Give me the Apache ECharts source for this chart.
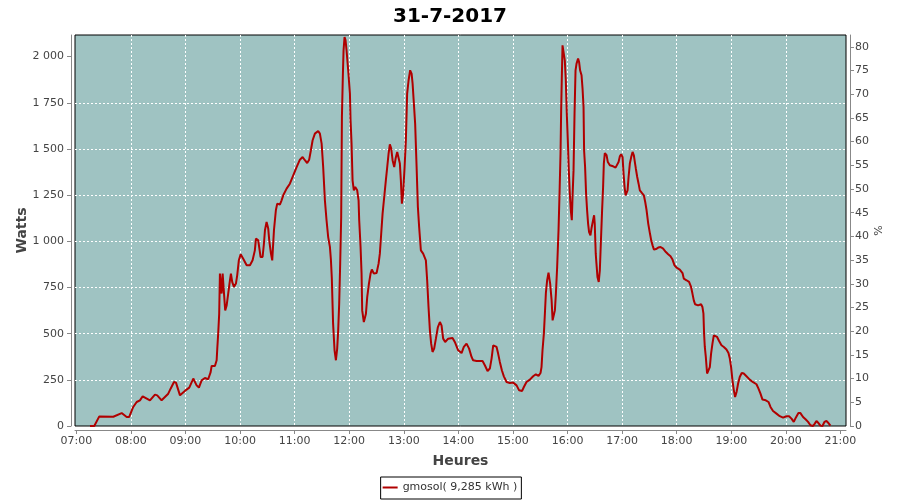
<!DOCTYPE html>
<html><head><meta charset="utf-8">
<script src="https://cdn.jsdelivr.net/npm/echarts@6/dist/echarts.min.js"></script>
<style>html,body{margin:0;padding:0;background:#fff}#c{width:900px;height:500px}</style>
</head><body><div id="c"></div>
<script>
// time of day in minutes since midnight
const minutes = [435.1,439.8,445.3,460.7,462.5,469.9,475.4,478.2,482.6,486.4,490,493,494.4,501,506.5,509,513.8,521.1,523.7,527.4,529.6,534,535.8,539.4,544.2,548.6,552.3,554.8,557.8,561.4,565,567.7,568.8,572.4,574.3,575,576,577.1,577.9,579.8,580.9,582.4,583.7,585.3,587,588.9,590,591.4,593.3,595.5,596.9,598.7,600.7,603.5,607.3,610.9,613.8,616.3,617.5,620,622.6,624.8,626.3,627.4,629.2,631,632.1,634,635.4,637.3,639.4,640.9,643.8,645.7,647.5,651.2,654.8,658.5,662.2,665.8,668.8,671.3,673.8,676,677.9,679.8,682.3,685.9,687.8,689.7,691.4,693.3,695.1,696.9,698.8,699.9,700.9,702.3,703.9,705.4,706.8,707.9,709,710.1,711.2,712,713,713.8,714.9,716,717.1,718.9,720.8,721.5,722.6,723.7,725.1,726.6,728.8,730.3,731,732.5,733.6,734.3,736.1,738.4,739.8,741.7,743.5,744.9,747.1,750.1,752.3,753.7,755.2,756.7,758.5,760.3,761.8,763.3,764.7,766.2,767.7,769.5,771,772.8,774.3,775.7,776.8,777.9,779.3,780.9,782.3,783.7,785.3,787,788.6,789.7,791.1,792.5,794.1,795.5,796.9,798.8,801.3,802.9,804.3,805.7,807.2,808.7,810.1,811.6,813.4,815.3,817.5,819.7,821.5,823.3,825.5,828.8,833.6,836.1,839.8,843.5,846,849,851.8,854.5,856.2,860,866.6,869.1,872.1,874.6,876.5,878.3,880.1,882,883.7,885.6,887.8,890,893,896.6,900.2,904,906.8,910.1,912,914.9,918.6,922.2,925.2,928.1,930.3,931.4,932.5,934,935.1,936.2,937.6,939.1,939.8,940.9,942.5,943.6,945,946.1,947.2,948.6,950.1,951.2,952.3,953,953.7,954.5,955.9,957,958.1,959.2,960.3,961.4,962.5,963.6,964.7,965.5,966.6,967.7,968.8,969.9,971.6,972.7,973.8,975.4,976.5,977.6,978.2,979.3,980.4,981.5,982.6,983.7,985.2,986.3,987.7,989.2,989.9,991,991.8,992.9,994.3,995.5,996.6,998,999.1,999.9,1001,1002.9,1004.3,1006.5,1010.1,1012.8,1014.5,1016.1,1017.5,1019,1020.5,1021.6,1022.7,1023.8,1024.9,1026,1027.1,1028.5,1030,1031.5,1032.9,1034,1035.1,1036.6,1038.1,1039.5,1041.7,1043.9,1045.4,1046.9,1048.7,1050.6,1052,1053.5,1055,1057.2,1059.7,1062.3,1065.1,1068.1,1070.6,1073.2,1075.4,1077.6,1079.8,1083.4,1086.4,1087.8,1090.8,1093.6,1095.8,1097.3,1098.8,1100.2,1103.5,1106.8,1108.3,1109.4,1110.1,1110.9,1112,1113.4,1114.9,1116.4,1117.8,1119.3,1120.8,1122.6,1124.4,1126.6,1129.2,1131.8,1134.7,1136.9,1138.4,1139.8,1141.3,1142.8,1144.2,1145.8,1147.5,1149.3,1151.5,1153.7,1156.7,1160.3,1164,1167.7,1169.9,1172.1,1174.3,1177.9,1180.9,1183.1,1185.9,1189.7,1193.3,1196.9,1200.7,1203.5,1206.2,1208.7,1210.9,1213.8,1216,1218.9,1221.9,1224.4,1227,1229.9,1231.8,1233.6,1235.8,1238,1240.2,1242.4,1244.6,1246.8,1249];
// power in watts
const watts = [0,0,52,50,43,70,49,49,103,130,139,161,166,139,170,166,139,175,202,238,235,166,157,190,208,257,220,208,247,260,253,292,325,325,356,419,500,608,825,717,825,717,626,653,717,789,825,780,753,771,816,897,930,906,870,870,897,951,1015,1005,915,915,988,1060,1105,1069,1005,933,897,1060,1168,1204,1199,1222,1249,1285,1312,1357,1402,1442,1456,1439,1424,1442,1493,1547,1583,1597,1583,1529,1402,1222,1114,1023,970,900,800,554,410,356,419,518,663,879,1132,1673,1890,2034,2106,2088,2034,1926,1800,1655,1529,1330,1276,1294,1276,1222,1114,969,825,626,563,608,698,771,825,847,825,828,879,933,1042,1150,1240,1330,1402,1475,1525,1502,1439,1402,1448,1484,1493,1421,1330,1204,1258,1402,1547,1800,1872,1926,1908,1854,1746,1637,1402,1186,1077,951,933,940,897,789,644,518,446,401,419,473,536,563,545,473,455,473,477,455,410,395,428,446,419,374,356,352,352,329,298,311,365,437,446,428,392,347,302,269,238,233,235,220,193,190,211,238,251,269,280,271,287,319,410,500,608,720,790,830,834,771,680,572,565,626,717,861,1060,1258,1475,1709,1881,2061,2070,1980,1872,1691,1547,1384,1258,1168,1114,1240,1384,1691,1926,1962,1989,1971,1926,1899,1827,1727,1493,1402,1258,1168,1096,1050,1032,1069,1105,1141,1096,933,879,807,780,843,988,1168,1294,1421,1478,1466,1429,1412,1406,1399,1402,1429,1460,1471,1456,1366,1294,1249,1240,1276,1348,1421,1456,1484,1466,1429,1393,1348,1312,1276,1262,1249,1213,1168,1096,1042,1005,978,955,958,966,969,960,942,930,919,901,870,858,847,828,798,789,780,753,717,680,659,653,659,644,608,500,428,374,284,280,319,392,446,491,496,482,460,437,428,414,395,365,319,247,193,157,184,230,265,287,284,269,251,237,226,202,175,143,139,130,103,81,67,53,45,53,53,40,22,45,70,70,49,35,22,4,0,13,27,16,2,0,22,27,16,2];
const hourTicks = [420,480,540,600,660,720,780,840,900,960,1020,1080,1140,1200,1260];
const hourLabels = ['07:00','08:00','09:00','10:00','11:00','12:00','13:00','14:00','15:00','16:00','17:00','18:00','19:00','20:00','21:00'];
const wattTicks = [0,250,500,750,1000,1250,1500,1750,2000];
const wattLabels = ['0','250','500','750','1 000','1 250','1 500','1 750','2 000'];
const pctTicks = [0,5,10,15,20,25,30,35,40,45,50,55,60,65,70,75,80];
const seriesName = 'gmosol( 9,285 kWh )';
const titleText = '31-7-2017';

const FONT = 'DejaVu Sans';
const gray = '#888888';
const labelColor = '#444444';

const chart = echarts.init(document.getElementById('c'), null, {renderer:'canvas'});
chart.setOption({
  animation: false,
  backgroundColor: '#ffffff',
  title: {
    text: titleText, left: 'center', top: 2,
    textStyle: {fontFamily: FONT, fontSize: 20, fontWeight: 'bold', color: '#000'}
  },
  legend: {
    data: [seriesName], left: 'center', top: 477,
    icon: 'rect', itemWidth: 15, itemHeight: 2, itemGap: 4,
    borderColor: '#000', borderWidth: 1, borderRadius: 0, padding: [5, 4, 6, 2],
    textStyle: {fontFamily: FONT, fontSize: 11, color: '#333'}
  },
  grid: {
    left: 75, right: 54, top: 35, bottom: 74, containLabel: false,
    show: true, backgroundColor: '#9fc3c2', borderColor: '#000', borderWidth: 1
  },
  xAxis: {
    type: 'value', min: 418.6, max: 1266.1, minInterval: 60, maxInterval: 60,
    offset: 4,
    name: 'Heures', nameLocation: 'middle', nameGap: 24, nameMoveOverlap: false,
    nameTextStyle: {fontFamily: FONT, fontSize: 14, fontWeight: 'bold', color: labelColor},
    axisLine: {show: true, onZero: false, lineStyle: {color: gray, width: 1}},
    axisTick: {show: true, length: 4, customValues: hourTicks, lineStyle: {color: gray}},
    axisLabel: {customValues: hourTicks, margin: 6, fontFamily: FONT, fontSize: 11, color: labelColor,
      formatter: v => hourLabels[hourTicks.indexOf(Math.round(v))] || ''},
    splitLine: {show: true, showMinLine: false, showMaxLine: false,
      lineStyle: {color: '#ffffff', width: 1, type: [2, 2]}}
  },
  yAxis: [{
    type: 'value', position: 'left', min: 0, max: 2117, minInterval: 250, maxInterval: 250,
    offset: 4,
    name: 'Watts', nameLocation: 'middle', nameGap: 42, nameRotate: 90, nameMoveOverlap: false,
    nameTextStyle: {fontFamily: FONT, fontSize: 14, fontWeight: 'bold', color: labelColor},
    axisLine: {show: true, lineStyle: {color: gray, width: 1}},
    axisTick: {show: true, length: 4, customValues: wattTicks, lineStyle: {color: gray}},
    axisLabel: {customValues: wattTicks, margin: 7, fontFamily: FONT, fontSize: 11, color: labelColor,
      formatter: v => wattLabels[wattTicks.indexOf(Math.round(v))] || ''},
    splitLine: {show: true, showMinLine: false, showMaxLine: false,
      lineStyle: {color: '#ffffff', width: 1, type: [2, 2]}}
  }, {
    type: 'value', position: 'right', min: 0, max: 82.5, minInterval: 5, maxInterval: 5,
    offset: 4,
    name: '%', nameLocation: 'middle', nameGap: 24, nameRotate: 90, nameMoveOverlap: false,
    nameTextStyle: {fontFamily: FONT, fontSize: 11, color: labelColor},
    axisLine: {show: true, lineStyle: {color: gray, width: 1}},
    axisTick: {show: true, length: 4, customValues: pctTicks, lineStyle: {color: gray}},
    axisLabel: {customValues: pctTicks, margin: 5, fontFamily: FONT, fontSize: 11, color: labelColor},
    splitLine: {show: false}
  }],
  series: [{
    name: seriesName, type: 'line', yAxisIndex: 0,
    data: minutes.map((m, i) => [m, watts[i]]),
    symbol: 'none', showSymbol: false,
    lineStyle: {color: '#b00000', width: 2},
    itemStyle: {color: '#b00000'}
  }]
});
</script>
</body></html>
